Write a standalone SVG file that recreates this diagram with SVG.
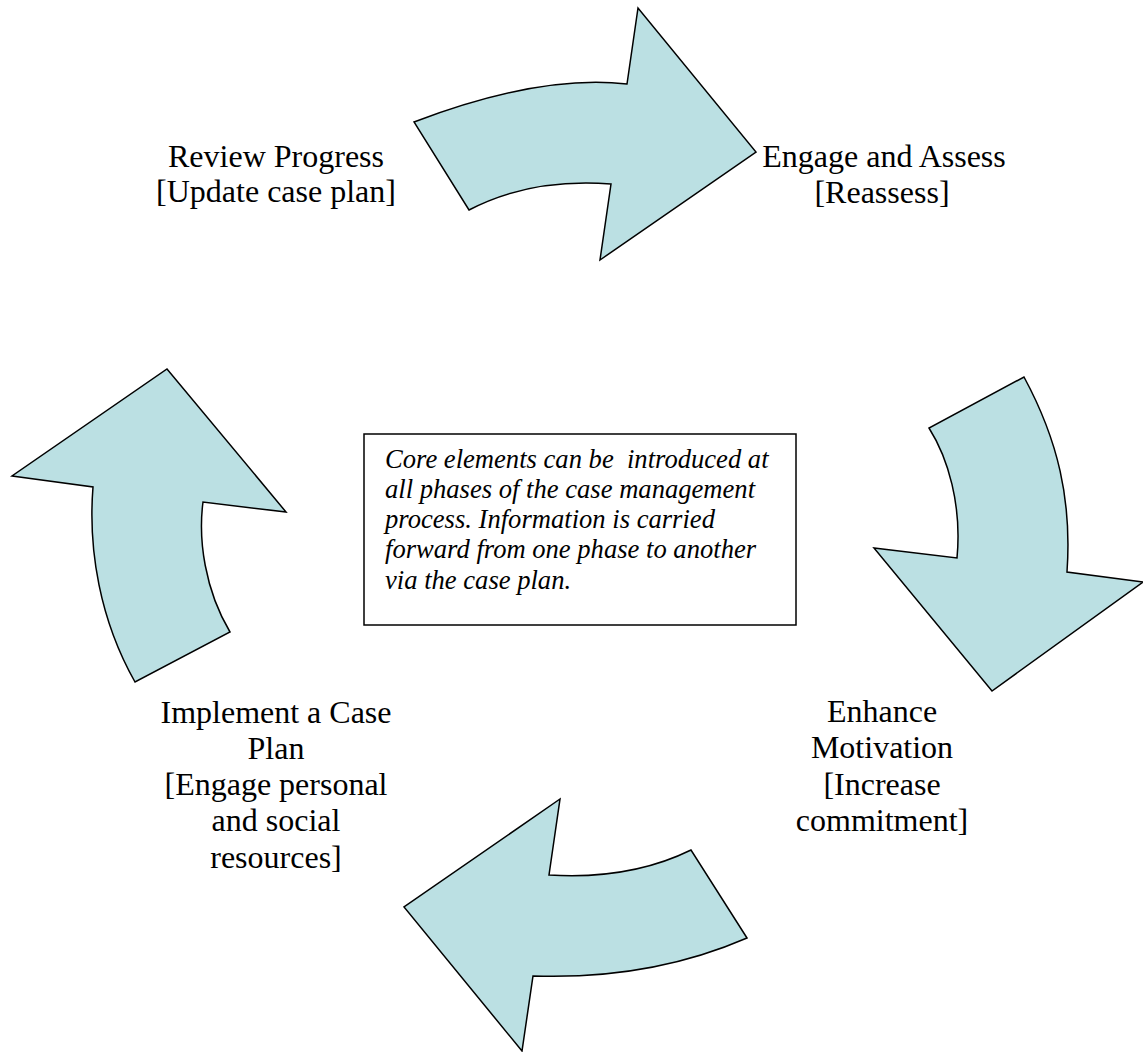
<svg xmlns="http://www.w3.org/2000/svg" width="1143" height="1052" viewBox="0 0 1143 1052">
<style>
.arrow{fill:#bbe0e3;stroke:#000;stroke-width:1.5;stroke-linejoin:miter}
.lbl{font-family:"Liberation Serif","Times New Roman",serif;font-size:32px;fill:#000;text-anchor:middle}
.note{font-family:"Liberation Serif","Times New Roman",serif;font-size:26.6px;font-style:italic;fill:#000}
.box{fill:#fff;stroke:#000;stroke-width:1.5}
</style>
<rect width="1143" height="1052" fill="#fff"/>
<g id="connectors">
<path id="arrow-top" class="arrow" d="M414,122 Q540,74 627,84 L638,8 L756,152 L600,260 L611,184 Q530,178 469,210 Z"/>
<path id="arrow-right" class="arrow" d="M1024,377 C1058,440 1072,500 1067,572 L1143,582 L992,691 L874,548 L957,558 C962,505 948,458 929,428 Z"/>
<path id="arrow-bottom" class="arrow" d="M747,938 Q650,980 533,976 L522,1051 L404,907 L560,799 L549,875 Q630,880 691,850 Z"/>
<path id="arrow-left" class="arrow" d="M135,682 C100,620 88,550 93,487 L12,476 L167,369 L286,512 L203,502 C198,540 205,590 230,632 Z"/>
</g>
<g id="node-review">
<text class="lbl" x="276" y="167">Review Progress</text>
<text class="lbl" x="276" y="202">[Update case plan]</text>
</g>
<g id="node-engage">
<text class="lbl" x="884" y="167">Engage and Assess</text>
<text class="lbl" x="882" y="203">[Reassess]</text>
</g>
<g id="node-enhance">
<text class="lbl" x="882" y="722">Enhance</text>
<text class="lbl" x="882" y="758">Motivation</text>
<text class="lbl" x="882" y="795">[Increase</text>
<text class="lbl" x="882" y="831">commitment]</text>
</g>
<g id="node-implement">
<text class="lbl" x="276" y="723">Implement a Case</text>
<text class="lbl" x="276" y="759">Plan</text>
<text class="lbl" x="276" y="795">[Engage personal</text>
<text class="lbl" x="276" y="831">and social</text>
<text class="lbl" x="276" y="868">resources]</text>
</g>
<g id="node-note">
<rect class="box" x="364" y="434" width="432" height="191"/>
<text class="note" x="385" y="468" xml:space="preserve">Core elements can be  introduced at</text>
<text class="note" x="385" y="498">all phases of the case management</text>
<text class="note" x="385" y="528">process. Information is carried</text>
<text class="note" x="385" y="558">forward from one phase to another</text>
<text class="note" x="385" y="589">via the case plan.</text>
</g>
</svg>
